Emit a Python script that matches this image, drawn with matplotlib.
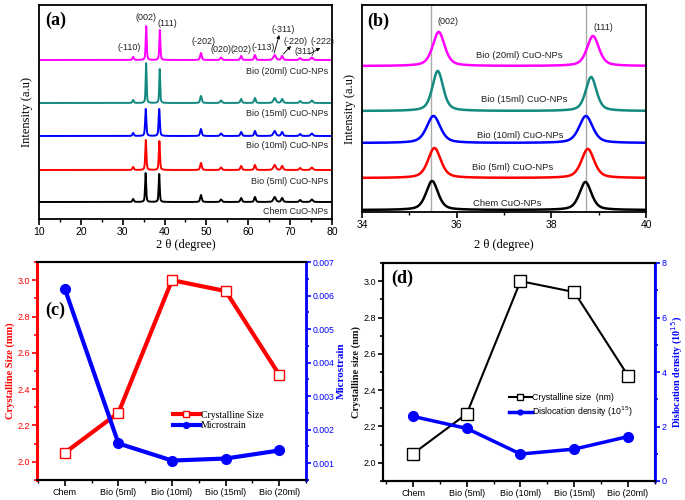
import numpy as np
import matplotlib
matplotlib.use("Agg")
import matplotlib.pyplot as plt
from matplotlib.ticker import MultipleLocator

SANS = "Liberation Sans"
SERIF = "Liberation Serif"

# ---------------- data ----------------
samples = ["Chem CuO-NPs", "Bio (5ml) CuO-NPs", "Bio (10ml) CuO-NPs",
           "Bio (15ml) CuO-NPs", "Bio (20ml) CuO-NPs"]
colors = ["#000000", "#ff0000", "#0000ff", "#138a80", "#ff00ff"]

# XRD peak positions / heights / widths
pos_002 = [35.48, 35.53, 35.51, 35.60, 35.62]
pos_111 = [38.72, 38.77, 38.73, 38.84, 38.88]
h_002 = [29, 30, 27, 40, 34]
h_111 = [28, 29, 27, 34, 30]
fwhm_main = [0.30, 0.32, 0.34, 0.27, 0.30]
minor_pos = [32.5, 48.7, 53.5, 58.3, 61.6, 66.3, 68.1, 72.4, 75.2]
minor_h = [3, 7, 2.5, 4, 5, 5, 4, 2, 2.5]
minor_w = [0.4, 0.45, 0.5, 0.45, 0.45, 0.7, 0.5, 0.5, 0.6]
offsets_a = [17, 49, 83, 116, 159]
offsets_b = [2, 34, 69, 101, 146]

peak_labels = ["(-110)", "(002)", "(111)", "(-202)", "(020)", "(202)",
               "(-113)", "(-311)", "(-220)", "(311)", "(-222)"]
peak_label_xy = [(31.5, 172), (35.6, 201), (40.6, 196), (49.2, 178), (53.5, 169),
                 (58.3, 170), (63.5, 172), (68.3, 189), (71.3, 178), (73.6, 168),
                 (77.8, 177)]

categories = ["Chem", "Bio (5ml)", "Bio (10ml)", "Bio (15ml)", "Bio (20ml)"]
cryst_size = [2.05, 2.27, 3.00, 2.94, 2.48]
microstrain = [0.0062, 0.00159, 0.00108, 0.00114, 0.00138]
disloc = [2.37, 1.93, 0.99, 1.17, 1.63]


def profile(x, centers, heights, widths):
    y = np.zeros_like(x)
    for c, h, w in zip(centers, heights, widths):
        hw = w / 2.0
        lor = 1.0 / (1.0 + ((x - c) / hw) ** 2)
        gau = np.exp(-np.log(2) * ((x - c) / hw) ** 2)
        y += h * (0.5 * lor + 0.5 * gau)
    return y


fig = plt.figure(figsize=(6.85, 5.0), dpi=100)

# ---------------- (a) ----------------
axa = fig.add_axes([0.0569, 0.562, 0.4277, 0.428])
xa = np.linspace(10, 80, 4000)
for i in range(5):
    cs = [pos_002[i], pos_111[i]] + minor_pos
    hs = [h_002[i], h_111[i]] + minor_h
    ws = [fwhm_main[i], fwhm_main[i]] + minor_w
    axa.plot(xa, offsets_a[i] + profile(xa, cs, hs, ws), color=colors[i], lw=1.4)
axa.set_xlim(10, 80)
axa.set_ylim(0, 214)
axa.set_yticks([])
axa.xaxis.set_major_locator(MultipleLocator(10))
axa.xaxis.set_minor_locator(MultipleLocator(5))
axa.tick_params(axis="x", which="major", direction="out", length=4, width=1.2, labelsize=7.5, pad=2)
axa.tick_params(axis="x", which="minor", direction="out", length=2.5, width=1.0)
for lab in axa.get_xticklabels():
    lab.set_family(SANS)
for s in axa.spines.values():
    s.set_linewidth(1.3)
axa.set_xlabel("2 θ (degree)", family=SERIF, fontsize=9, labelpad=1)
axa.set_ylabel("Intensity (a.u)", family=SERIF, fontsize=9, labelpad=4)
axa.text(0.02, 0.93, "(a)", transform=axa.transAxes, family=SERIF, fontweight="bold",
         fontsize=13, va="center")
label_y_a = [8, 38, 73, 105, 148]
for i in range(5):
    axa.text(79.0, label_y_a[i], samples[i], ha="right", va="center",
             family=SANS, fontsize=6.5, color="#222222")
for lab, (lx, ly) in zip(peak_labels, peak_label_xy):
    axa.text(lx, ly, lab, ha="center", va="center", family=SANS, fontsize=6.5, color="#222222")
# arrows from peaks to labels
arrow_pairs = [((66.2, 166), (67.4, 184)), ((68.4, 165), (70.2, 173)), ((74.6, 165), (77.2, 171))]
for (sx, sy), (ex, ey) in arrow_pairs:
    axa.annotate("", xy=(ex, ey), xytext=(sx, sy),
                 arrowprops=dict(arrowstyle="-|>", color="black", lw=0.6,
                                 mutation_scale=5, shrinkA=0, shrinkB=0))

# ---------------- (b) ----------------
axb = fig.add_axes([0.5285, 0.576, 0.4146, 0.414])
xb = np.linspace(34, 40, 1500)
axb.axvline(35.46, color="#aaaaaa", lw=1.0, zorder=0)
axb.axvline(38.73, color="#aaaaaa", lw=1.0, zorder=0)
for i in range(5):
    cs = [pos_002[i], pos_111[i]]
    hs = [h_002[i], h_111[i]]
    ws = [fwhm_main[i], fwhm_main[i]]
    axb.plot(xb, offsets_b[i] + profile(xb, cs, hs, ws), color=colors[i], lw=1.8)
axb.set_xlim(34, 40)
axb.set_ylim(0, 207)
axb.set_yticks([])
axb.xaxis.set_major_locator(MultipleLocator(2))
axb.xaxis.set_minor_locator(MultipleLocator(1))
axb.tick_params(axis="x", which="major", direction="out", length=4, width=1.2, labelsize=7.5, pad=2)
axb.tick_params(axis="x", which="minor", direction="out", length=2.5, width=1.0)
for lab in axb.get_xticklabels():
    lab.set_family(SANS)
for s in axb.spines.values():
    s.set_linewidth(1.3)
axb.set_xlabel("2 θ (degree)", family=SERIF, fontsize=9, labelpad=6)
axb.set_ylabel("Intensity (a.u)", family=SERIF, fontsize=9, labelpad=4)
axb.text(0.02, 0.92, "(b)", transform=axb.transAxes, family=SERIF, fontweight="bold",
         fontsize=13, va="center")
label_xy_b = [(37.06, 9), (37.19, 45), (37.35, 77), (37.42, 112), (37.33, 157)]
for i in range(5):
    axb.text(label_xy_b[i][0], label_xy_b[i][1], samples[i], ha="center", va="center",
             family=SANS, fontsize=6.8, color="#222222")
axb.text(35.81, 190, "(002)", ha="center", va="center", family=SANS, fontsize=6.5, color="#222222")
axb.text(39.09, 185, "(111)", ha="center", va="center", family=SANS, fontsize=6.5, color="#222222")

xc = np.arange(len(categories))

# ---------------- (c) ----------------
axc = fig.add_axes([0.054, 0.04, 0.3927, 0.436])
l1, = axc.plot(xc, cryst_size, color="#ff0000", lw=3, marker="s", ms=7,
               mfc="white", mec="#ff0000", mew=1.0, label="Crystalline Size", zorder=3)
axc.set_xlim(-0.52, 4.5)
axc.set_ylim(1.9, 3.1)
axc.set_xticks(xc)
axc.set_xticklabels(categories, family=SANS, fontsize=6.5)
axc.xaxis.set_minor_locator(MultipleLocator(0.5))
axc.yaxis.set_major_locator(MultipleLocator(0.2))
axc.yaxis.set_minor_locator(MultipleLocator(0.1))
axc.tick_params(axis="y", which="both", colors="#ff0000", labelsize=6.5, direction="out",
                width=1.2, pad=1.5)
axc.tick_params(axis="y", which="major", length=3.5)
axc.tick_params(axis="y", which="minor", length=2)
axc.tick_params(axis="x", which="major", length=4, width=1.2, direction="out", pad=2)
axc.tick_params(axis="x", which="minor", length=2.5, width=1.0, direction="out")
for lab in axc.get_yticklabels():
    lab.set_family(SANS)
axc.spines["left"].set_color("#ff0000")
axc.spines["left"].set_linewidth(2)
axc.spines["bottom"].set_linewidth(1.5)
axc.spines["top"].set_linewidth(1.5)
axc.set_ylabel("Crystalline Size (mm)", family=SERIF, fontweight="bold", fontsize=7.5,
               color="#ff0000", labelpad=2)
axc2 = axc.twinx()
l2, = axc2.plot(xc, microstrain, color="#0000ff", lw=3, marker="o", ms=7,
                mfc="#0000ff", mec="#0000ff", label="Microstrain", zorder=3)
axc2.set_ylim(0.0005, 0.007)
axc2.yaxis.set_major_locator(MultipleLocator(0.001))
axc2.yaxis.set_minor_locator(MultipleLocator(0.0005))
axc2.tick_params(axis="y", which="both", colors="#0000ff", labelsize=6.3, direction="out",
                 width=1.2, pad=1.5)
axc2.tick_params(axis="y", which="major", length=3.5)
axc2.tick_params(axis="y", which="minor", length=2)
for lab in axc2.get_yticklabels():
    lab.set_family(SANS)
axc2.spines["right"].set_color("#0000ff")
axc2.spines["right"].set_linewidth(2)
axc2.spines["left"].set_color("#ff0000")
axc2.spines["left"].set_linewidth(2)
axc2.spines["top"].set_linewidth(1.5)
axc2.spines["bottom"].set_linewidth(1.5)
axc2.set_ylabel("Microstrain", family=SERIF, fontweight="bold", fontsize=8,
                color="#0000ff", labelpad=1)
axc.text(0.03, 0.78, "(c)", transform=axc.transAxes, family=SERIF, fontweight="bold",
         fontsize=13, va="center")
axc2.legend(handles=[l1, l2], loc="lower left", bbox_to_anchor=(0.49, 0.21),
            frameon=False, handlelength=2.8, handletextpad=0.1, labelspacing=0.15,
            prop={"family": SERIF, "size": 7}, borderaxespad=0, markerscale=0.6)

# ---------------- (d) ----------------
axd = fig.add_axes([0.559, 0.038, 0.397, 0.436])
m1, = axd.plot(xc, cryst_size, color="black", lw=1.5, marker="s", ms=8,
               mfc="white", mec="black", mew=1.0, label="Crystalline size  (nm)", zorder=3)
axd.set_xlim(-0.56, 4.5)
axd.set_ylim(1.9, 3.1)
axd.set_xticks(xc)
axd.set_xticklabels(categories, family=SANS, fontsize=6.5)
axd.xaxis.set_minor_locator(MultipleLocator(0.5))
axd.yaxis.set_major_locator(MultipleLocator(0.2))
axd.yaxis.set_minor_locator(MultipleLocator(0.1))
axd.tick_params(axis="y", which="both", labelsize=6.5, direction="out", width=1.2, pad=1.5)
axd.tick_params(axis="y", which="major", length=3.5)
axd.tick_params(axis="y", which="minor", length=2)
axd.tick_params(axis="x", which="major", length=4, width=1.2, direction="out", pad=2)
axd.tick_params(axis="x", which="minor", length=2.5, width=1.0, direction="out")
for lab in axd.get_yticklabels():
    lab.set_family(SANS)
for s in axd.spines.values():
    s.set_linewidth(1.5)
axd.set_ylabel("Crystalline size (nm)", family=SERIF, fontweight="bold", fontsize=7.5,
               color="#111111", labelpad=2)
axd2 = axd.twinx()
m2, = axd2.plot(xc, disloc, color="#0000ff", lw=2.5, marker="o", ms=7,
                mfc="#0000ff", mec="#0000ff", label="Dislocation density (10$^{15}$)", zorder=3)
axd2.set_ylim(0, 8)
axd2.yaxis.set_major_locator(MultipleLocator(2))
axd2.yaxis.set_minor_locator(MultipleLocator(1))
axd2.tick_params(axis="y", which="both", colors="#0000ff", labelsize=6.5, direction="out",
                 width=1.2, pad=1.5)
axd2.tick_params(axis="y", which="major", length=3.5)
axd2.tick_params(axis="y", which="minor", length=2)
for lab in axd2.get_yticklabels():
    lab.set_family(SANS)
for s in axd2.spines.values():
    s.set_linewidth(1.5)
axd2.spines["right"].set_color("#0000ff")
axd2.spines["right"].set_linewidth(2)
axd2.set_ylabel("Dislocation density (10$^{15}$)", family=SERIF, fontweight="bold", fontsize=7.3,
                color="#0000ff", labelpad=2)
axd.text(0.03, 0.93, "(d)", transform=axd.transAxes, family=SERIF, fontweight="bold",
         fontsize=13, va="center")
axd2.legend(handles=[m1, m2], loc="lower left", bbox_to_anchor=(0.45, 0.27),
            frameon=False, handlelength=2.6, handletextpad=0.1, labelspacing=0.2,
            prop={"family": SANS, "size": 6.3}, borderaxespad=0, markerscale=0.5)

fig.savefig("out.png", dpi=100, facecolor="white")
